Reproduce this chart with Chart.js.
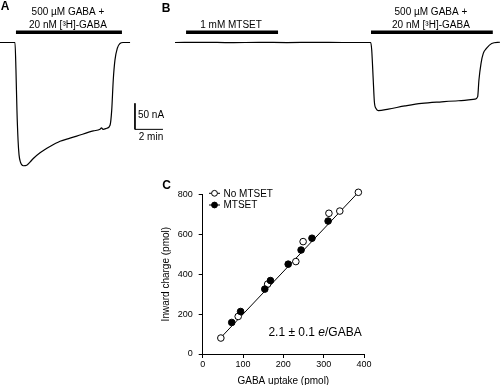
<!DOCTYPE html>
<html>
<head>
<meta charset="utf-8">
<script src="https://cdn.jsdelivr.net/npm/chart.js@4/dist/chart.umd.min.js"></script>
<style>
html, body { margin: 0; padding: 0; background: #fff; }
#wrap { position: relative; width: 500px; height: 385px; overflow: hidden; }
#traceChart { position: absolute; left: 0; top: 0; }
#uptakeChart { position: absolute; left: 120px; top: 170px; }
</style>
</head>
<body>
<div id="wrap">
  <canvas id="traceChart" width="500" height="180"></canvas>
  <canvas id="uptakeChart" width="260" height="215"></canvas>
</div>
<script>
// Panel A: current trace (time in min, current in nA)
var traceATime = [0, 1.07, 1.14, 1.21, 1.29, 1.36, 1.46, 1.66, 1.91, 2.14, 2.38, 2.86, 3.57, 4.29, 5.0, 5.48, 6.66, 7.14, 7.25, 7.36, 7.62, 7.86, 7.98, 8.09, 8.21, 8.38, 8.57, 8.79, 9.29];
var traceACurrent = [0, 0, -53, -130, -188, -216, -230, -237, -236, -230, -223, -212, -200, -190, -184, -180, -170, -167, -164, -167, -165, -159, -130, -72, -34, -11, -2, 0, 0];

// Panel B: current trace
var traceBTime = [12.5, 14.5, 16.5, 18.5, 20.5, 22.5, 24.5, 26.48, 26.55, 26.66, 26.74, 26.86, 27.02, 27.74, 28.93, 30.12, 31.55, 32.74, 33.93, 34.12, 34.21, 34.36, 34.52, 34.76, 35.12, 35.71];
var traceBCurrent = [0, 0.4, -0.3, 0.3, -0.2, 0.3, 0, 0, -14, -72, -114, -127, -131, -128, -122, -117, -114, -112, -109, -104, -72, -40, -21, -11, -2, 0.5];

// solution application bars (min)
var barStart = [1.14, 13.29, 26.5];
var barEnd = [8.71, 19.86, 35.2];
var barLabels = [['500 µM GABA +', '20 nM [³H]-GABA'], ['1 mM MTSET'], ['500 µM GABA +', '20 nM [³H]-GABA']];

// scale bar size
var scaleBarMin = 2;
var scaleBarNA = 50;

// Panel C: inward charge vs GABA uptake (pmol)
var noMtsetUptake = [45, 88, 161, 231, 249, 313, 340, 386];
var noMtsetCharge = [80, 188, 350, 463, 563, 705, 716, 810];
var mtsetUptake = [72, 94, 154, 168, 212, 244, 271, 311];
var mtsetCharge = [158, 213, 325, 368, 450, 521, 580, 666];
var fitUptake = [44, 386];
var fitCharge = [80, 810];
var uptakeTicks = [0, 100, 200, 300, 400];
var chargeTicks = [0, 200, 400, 600, 800];

var sans = '"Liberation Sans", Arial, Helvetica, sans-serif';
var narrow = '"Liberation Sans Narrow", "Liberation Sans", Arial, sans-serif';

function pts(xs, ys) {
    return xs.map(function (x, i) { return { x: x, y: ys[i] }; });
}

// ---- top panels (A and B) ----
var barLevel = 19.6;
var scaleX0 = 9.64, scaleY0 = -167;

var traceLabels = {
    id: 'traceLabels',
    afterDatasetsDraw: function (chart) {
        var ctx = chart.ctx, xs = chart.scales.x, ys = chart.scales.y;
        ctx.save();
        ctx.fillStyle = '#000';
        ctx.textAlign = 'center';
        ctx.textBaseline = 'middle';
        ctx.font = '10px ' + sans;
        var barY = ys.getPixelForValue(barLevel);
        barLabels.forEach(function (lines, i) {
            var cx = (xs.getPixelForValue(barStart[i]) + xs.getPixelForValue(barEnd[i])) / 2 - 1;
            lines.forEach(function (t, j) {
                ctx.fillText(t, cx, barY - 7.5 - 13 * (lines.length - 1 - j));
            });
        });
        // scale bar labels
        var sx = xs.getPixelForValue(scaleX0);
        var sy0 = ys.getPixelForValue(scaleY0);
        var sy1 = ys.getPixelForValue(scaleY0 + scaleBarNA);
        ctx.textAlign = 'left';
        ctx.fillText(scaleBarNA + ' nA', sx + 3, (sy0 + sy1) / 2 - 1);
        ctx.textAlign = 'center';
        ctx.fillText(scaleBarMin + ' min', (sx + xs.getPixelForValue(scaleX0 + scaleBarMin)) / 2 + 2, sy0 + 8);
        // panel letters
        ctx.font = 'bold 12px ' + sans;
        ctx.fillText('A', 5, 7);
        ctx.fillText('B', 166, 9);
        ctx.restore();
    }
};

var barSets = barStart.map(function (s, i) {
    return {
        data: [{ x: s, y: barLevel }, { x: barEnd[i], y: barLevel }],
        borderColor: '#000',
        borderWidth: 3.5,
        borderCapStyle: 'butt',
        pointRadius: 0,
        tension: 0
    };
});

var traceCtx = document.getElementById('traceChart').getContext('2d');
var traceChart = new Chart(traceCtx, {
    type: 'line',
    data: {
        datasets: [{
            data: pts(traceATime, traceACurrent),
            borderColor: '#000',
            borderWidth: 1.2,
            pointRadius: 0,
            cubicInterpolationMode: 'monotone'
        }, {
            data: pts(traceBTime, traceBCurrent),
            borderColor: '#000',
            borderWidth: 1.2,
            pointRadius: 0,
            cubicInterpolationMode: 'monotone'
        }, {
            data: [{ x: scaleX0, y: scaleY0 + scaleBarNA }, { x: scaleX0, y: scaleY0 }, { x: scaleX0 + scaleBarMin, y: scaleY0 }],
            borderColor: '#000',
            borderWidth: 1,
            pointRadius: 0,
            tension: 0
        }].concat(barSets)
    },
    options: {
        responsive: false,
        animation: false,
        layout: { padding: 0 },
        scales: {
            x: { type: 'linear', display: false, min: 0, max: 500 / 14 },
            y: { type: 'linear', display: false, min: -264.4, max: 81.7 }
        },
        plugins: {
            legend: { display: false },
            tooltip: { enabled: false }
        }
    },
    plugins: [traceLabels]
});

// ---- panel C ----
var uptakeExtras = {
    id: 'uptakeExtras',
    afterDatasetsDraw: function (chart) {
        var ctx = chart.ctx, a = chart.chartArea;
        var sets = chart.data.datasets;
        ctx.save();
        ctx.strokeStyle = '#000';
        ctx.lineWidth = 1;
        // legend: No MTSET first, then MTSET
        [1, 0].forEach(function (k, i) {
            var y = a.top - 1 + i * 11.7;
            var x0 = a.left + 6.3;
            ctx.beginPath();
            ctx.moveTo(x0, y);
            ctx.lineTo(x0 + 11, y);
            ctx.stroke();
            ctx.beginPath();
            ctx.arc(x0 + 5.5, y, 2.9, 0, Math.PI * 2);
            ctx.fillStyle = sets[k].pointBackgroundColor;
            ctx.fill();
            ctx.stroke();
            ctx.fillStyle = '#000';
            ctx.font = '10px ' + sans;
            ctx.textAlign = 'left';
            ctx.textBaseline = 'middle';
            ctx.fillText(sets[k].label, x0 + 14.5, y + 0.5);
        });
        // slope annotation
        var parts = [['2.1 ± 0.1 ', ''], ['e', 'italic '], ['/GABA', '']];
        var total = 0;
        parts.forEach(function (p) {
            ctx.font = p[1] + '12px ' + sans;
            total += ctx.measureText(p[0]).width;
        });
        var x = a.right - 2.3 - total, y = a.bottom - 21.3;
        parts.forEach(function (p) {
            ctx.font = p[1] + '12px ' + sans;
            ctx.fillText(p[0], x, y);
            x += ctx.measureText(p[0]).width;
        });
        ctx.font = 'bold 12px ' + sans;
        ctx.textAlign = 'center';
        ctx.fillText('C', 46.5, 16);
        ctx.restore();
    }
};

var uptakeCtx = document.getElementById('uptakeChart').getContext('2d');
var uptakeChart = new Chart(uptakeCtx, {
    type: 'scatter',
    data: {
        datasets: [{
            label: 'MTSET',
            data: pts(mtsetUptake, mtsetCharge),
            pointRadius: 3.3,
            pointBackgroundColor: '#000',
            pointBorderColor: '#000',
            pointBorderWidth: 1,
            clip: false
        }, {
            label: 'No MTSET',
            data: pts(noMtsetUptake, noMtsetCharge),
            pointRadius: 3.3,
            pointBackgroundColor: '#fff',
            pointBorderColor: '#000',
            pointBorderWidth: 1,
            clip: false
        }, {
            type: 'line',
            label: 'fit',
            data: pts(fitUptake, fitCharge),
            borderColor: '#000',
            borderWidth: 1,
            pointRadius: 0,
            tension: 0,
            clip: false
        }]
    },
    options: {
        responsive: false,
        animation: false,
        layout: { padding: { left: 36, top: 24.3, right: 16, bottom: 0 } },
        scales: {
            x: {
                type: 'linear',
                min: 0,
                max: 400,
                afterBuildTicks: function (s) { s.ticks = uptakeTicks.map(function (v) { return { value: v }; }); },
                afterFit: function (s) { s.height = 31; },
                grid: { drawOnChartArea: false, color: '#000', tickLength: 4, lineWidth: 1 },
                border: { color: '#000', width: 1 },
                ticks: { color: '#000', font: { family: narrow, size: 9 }, padding: 1, maxRotation: 0 },
                title: { display: true, text: 'GABA uptake (pmol)', color: '#000', font: { family: sans, size: 10, lineHeight: 1 }, padding: { top: 0, bottom: -1 } }
            },
            y: {
                type: 'linear',
                min: 0,
                max: 800,
                afterBuildTicks: function (s) { s.ticks = chargeTicks.map(function (v) { return { value: v }; }); },
                afterFit: function (s) { s.width = 46.7; },
                grid: { drawOnChartArea: false, color: '#000', tickLength: 4, lineWidth: 1 },
                border: { color: '#000', width: 1 },
                ticks: { color: '#000', font: { family: narrow, size: 9 }, padding: 6 },
                title: { display: true, text: 'Inward charge (pmol)', color: '#000', font: { family: sans, size: 10, lineHeight: 1 }, padding: { top: 5, bottom: 0 } }
            }
        },
        plugins: {
            legend: { display: false },
            tooltip: { enabled: false }
        }
    },
    plugins: [uptakeExtras]
});
</script>
</body>
</html>
